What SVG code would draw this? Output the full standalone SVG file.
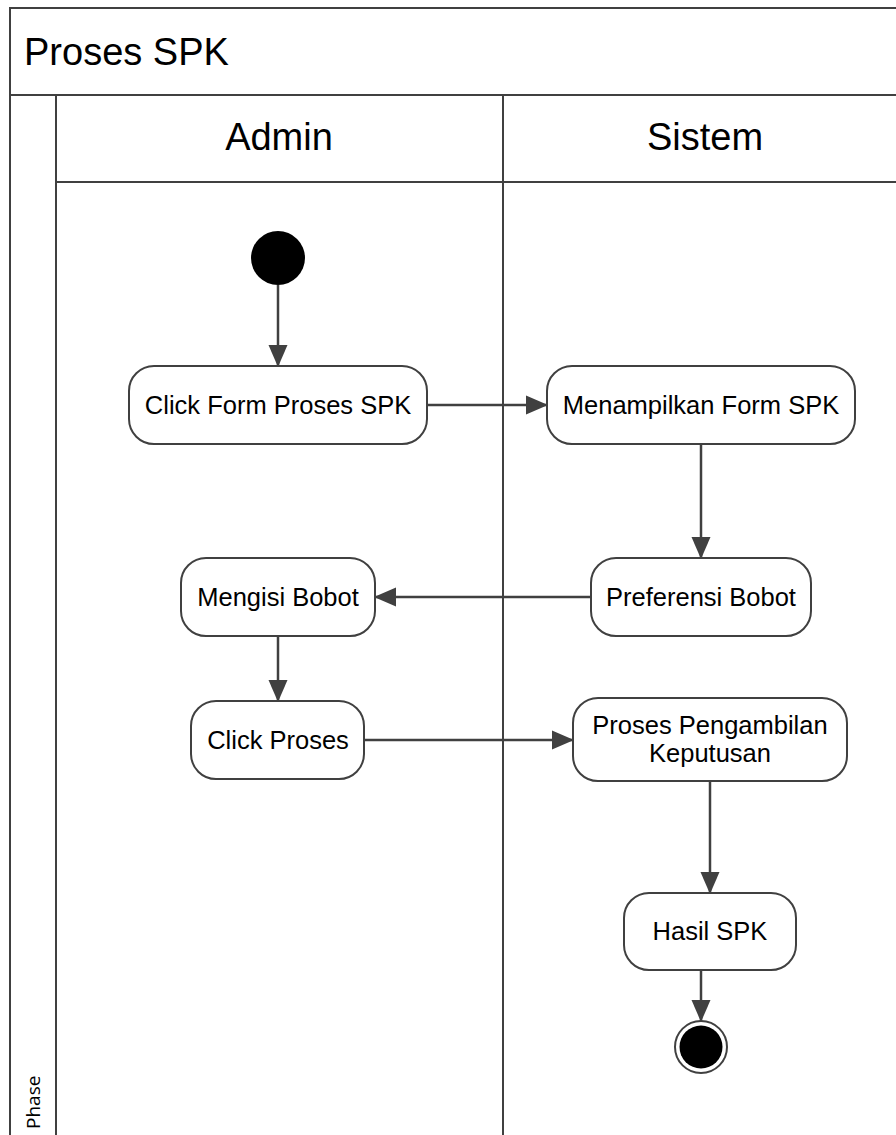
<svg xmlns="http://www.w3.org/2000/svg" width="896" height="1135" viewBox="0 0 896 1135">
<style>
.frame{fill:none;stroke:#404040;stroke-width:2}
.node{fill:#fff;stroke:#404040;stroke-width:2}
.lbl{font-family:"Liberation Sans",Arial,sans-serif;font-size:25.5px;fill:#000;text-anchor:middle;dominant-baseline:central}
.hdr{font-family:"Liberation Sans",Arial,sans-serif;font-size:38px;fill:#000;text-anchor:middle;dominant-baseline:central}
.edge{fill:none;stroke:#404040;stroke-width:2.5}
</style>
<defs>
<linearGradient id="gv" x1="0" y1="0" x2="0" y2="1">
<stop offset="0" stop-color="#fdfdfd"/><stop offset="1" stop-color="#eaeaea"/>
</linearGradient>
<linearGradient id="gh" x1="0" y1="0" x2="1" y2="0">
<stop offset="0" stop-color="#e8e8e8"/><stop offset="0.5" stop-color="#fafafa"/><stop offset="1" stop-color="#e8e8e8"/>
</linearGradient>
<marker id="arr" markerUnits="userSpaceOnUse" markerWidth="22" markerHeight="22" viewBox="0 0 22 22" refX="21" refY="11" orient="auto">
<path d="M0,1.5 L22,11 L0,20.5 Z" fill="#404040"/>
</marker>
</defs>
<rect x="0" y="0" width="896" height="1135" fill="#fff"/>
<g id="pool">
<rect x="10" y="8" width="900" height="87" fill="url(#gv)" class="frame"/>
<text x="24" y="52" style="font-family:'Liberation Sans',Arial,sans-serif;font-size:38px;dominant-baseline:central">Proses SPK</text>
<rect x="10" y="95" width="46" height="1050" fill="url(#gh)" class="frame"/>
<text transform="translate(40,1129) rotate(-90)" style="font-family:'Open Sans','Liberation Sans',sans-serif;font-size:19px" fill="#000">Phase</text>
</g>
<g id="lane-admin">
<rect x="56" y="95" width="447" height="87" fill="url(#gv)" class="frame"/>
<text x="279" y="137" class="hdr">Admin</text>
<line x1="56" y1="182" x2="56" y2="1140" class="frame"/>
</g>
<g id="lane-sistem">
<rect x="503" y="95" width="410" height="87" fill="url(#gv)" class="frame"/>
<text x="705" y="137" class="hdr">Sistem</text>
<line x1="503" y1="182" x2="503" y2="1140" class="frame"/>
</g>
<g id="edges">
<line x1="278" y1="285" x2="278" y2="366" class="edge" marker-end="url(#arr)"/>
<line x1="427" y1="405" x2="547" y2="405" class="edge" marker-end="url(#arr)"/>
<line x1="701" y1="444" x2="701" y2="558" class="edge" marker-end="url(#arr)"/>
<line x1="591" y1="597" x2="375" y2="597" class="edge" marker-end="url(#arr)"/>
<line x1="278" y1="636" x2="278" y2="701" class="edge" marker-end="url(#arr)"/>
<line x1="364" y1="740" x2="573" y2="740" class="edge" marker-end="url(#arr)"/>
<line x1="710" y1="781" x2="710" y2="893" class="edge" marker-end="url(#arr)"/>
<line x1="701" y1="970" x2="701" y2="1021" class="edge" marker-end="url(#arr)"/>
</g>
<g id="start"><circle cx="278" cy="258" r="27" fill="#000"/></g>
<g id="n1"><rect x="129" y="366" width="298" height="78" rx="25" class="node"/><text x="278" y="405" class="lbl">Click Form Proses SPK</text></g>
<g id="n2"><rect x="547" y="366" width="308" height="78" rx="25" class="node"/><text x="701" y="405" class="lbl">Menampilkan Form SPK</text></g>
<g id="n3"><rect x="591" y="558" width="220" height="78" rx="25" class="node"/><text x="701" y="597" class="lbl">Preferensi Bobot</text></g>
<g id="n4"><rect x="181" y="558" width="194" height="78" rx="25" class="node"/><text x="278" y="597" class="lbl">Mengisi Bobot</text></g>
<g id="n5"><rect x="191" y="701" width="173" height="78" rx="25" class="node"/><text x="278" y="740" class="lbl">Click Proses</text></g>
<g id="n6"><rect x="573" y="698" width="274" height="83" rx="25" class="node"/><text x="710" y="725" class="lbl">Proses Pengambilan</text><text x="710" y="753" class="lbl">Keputusan</text></g>
<g id="n7"><rect x="624" y="893" width="172" height="77" rx="25" class="node"/><text x="710" y="931" class="lbl">Hasil SPK</text></g>
<g id="end"><circle cx="701" cy="1047" r="26" fill="#fff" stroke="#404040" stroke-width="2"/><circle cx="701" cy="1047" r="21.5" fill="#000"/></g>
</svg>
